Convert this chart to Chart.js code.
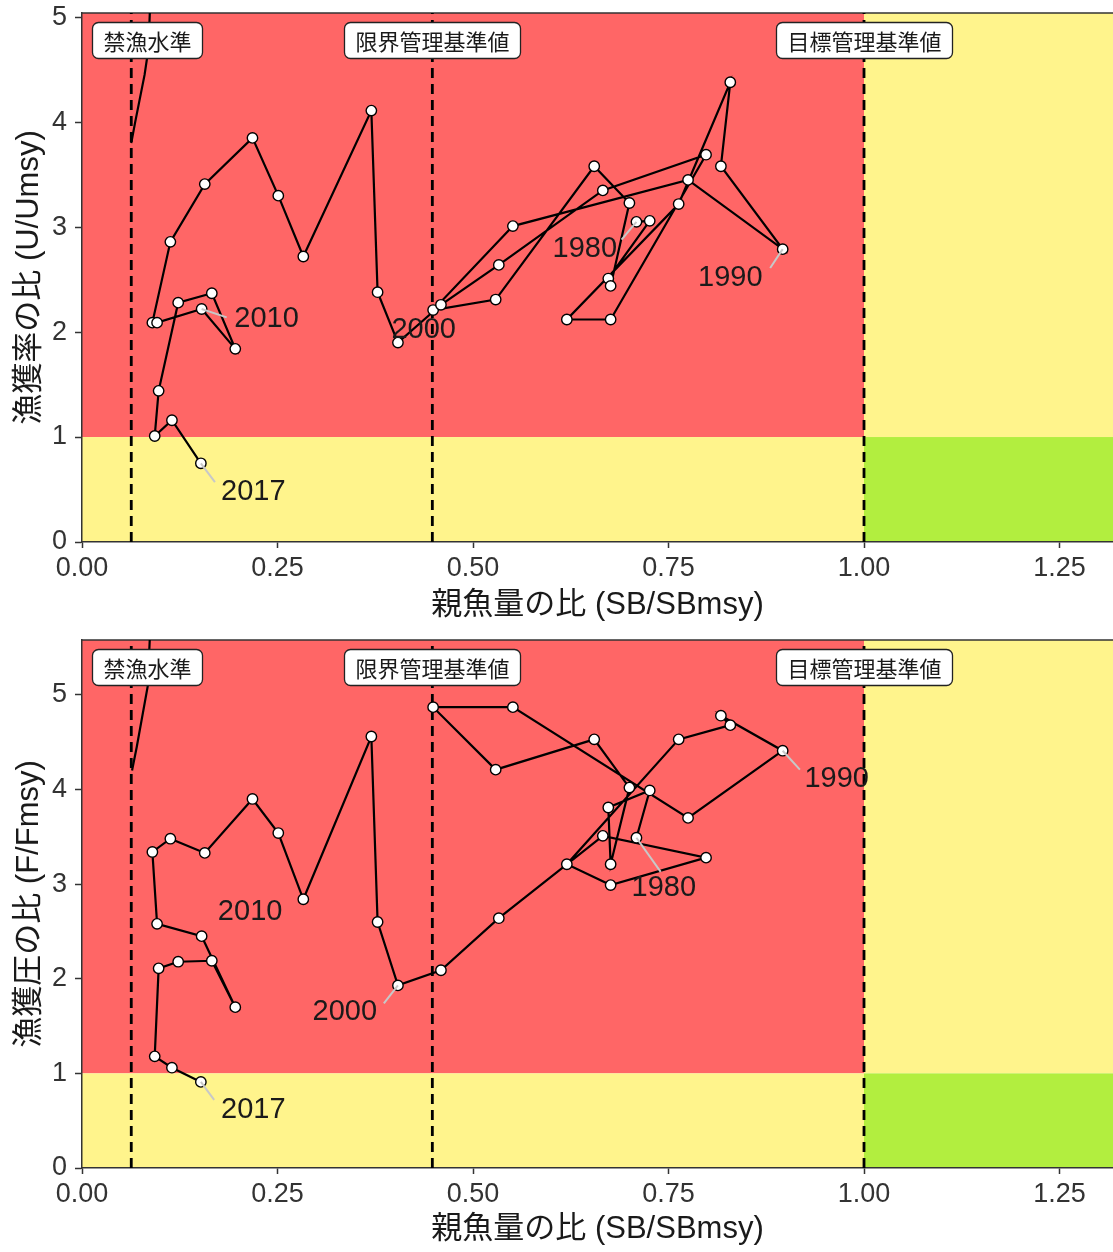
<!DOCTYPE html>
<html>
<head>
<meta charset="utf-8">
<script src="https://cdn.jsdelivr.net/npm/chart.js@4.4.1/dist/chart.umd.min.js"></script>
<style>
  html, body { margin: 0; padding: 0; background: #fff; }
  #wrap { position: relative; width: 1113px; height: 1252px; overflow: hidden; }
  canvas { position: absolute; left: 0; }
</style>
</head>
<body>
<div id="wrap">
  <canvas id="chart-u" width="1113" height="628" style="top:0"></canvas>
  <canvas id="chart-f" width="1113" height="624" style="top:628px"></canvas>
</div>
<script>
// Kobe-style plots: spawning biomass ratio vs exploitation rate / fishing pressure, 1980-2017.

const FIRST_YEAR = 1980;
// SB/SBmsy, one value per year from 1980 to 2017
const sbRatio = [
    0.709, 0.726, 0.673, 0.676, 0.700, 0.655, 0.529, 0.449, 0.551, 0.775,
    0.896, 0.817, 0.829, 0.763, 0.620, 0.676, 0.798, 0.666, 0.533, 0.459,
    0.404, 0.378, 0.370, 0.283, 0.251, 0.218, 0.157, 0.113, 0.090, 0.096,
    0.153, 0.196, 0.166, 0.123, 0.098, 0.093, 0.115, 0.152,
];
// U/Umsy
const uRatio = [
    3.05, 3.06, 2.51, 2.44, 3.23, 3.58, 2.31, 2.21, 3.01, 3.45,
    2.79, 3.58, 4.38, 3.22, 2.12, 2.12, 3.69, 3.35, 2.64, 2.26,
    1.90, 2.38, 4.11, 2.72, 3.30, 3.85, 3.41, 2.86, 2.09, 2.09,
    2.22, 1.84, 2.37, 2.28, 1.44, 1.01, 1.16, 0.75,
];
// F/Fmsy
const fRatio = [
    3.49, 3.99, 3.81, 3.21, 4.02, 4.53, 4.21, 4.87, 4.87, 3.70,
    4.41, 4.78, 4.68, 4.53, 3.21, 2.99, 3.28, 3.51, 2.64, 2.09,
    1.93, 2.60, 4.56, 2.84, 3.54, 3.90, 3.33, 3.48, 3.34, 2.58,
    2.45, 1.70, 2.19, 2.18, 2.11, 1.18, 1.06, 0.91,
];

// short line leaving the 禁漁水準 line at the top left of each panel
const banCurveU = [[0.063, 3.80], [0.068, 4.00], [0.080, 4.45], [0.085, 4.70], [0.087, 5.10]];
const banCurveF = [[0.064, 4.20], [0.070, 4.45], [0.084, 5.09], [0.087, 5.65]];

const xTicks = [0, 0.25, 0.5, 0.75, 1.0, 1.25];
const yTicks = [0, 1, 2, 3, 4, 5];

// reference points
const SB_BAN = 0.063;
const SB_LIMIT = 0.448;
const SB_TARGET = 1.0;
const RATIO_MSY = 1.0;
const refLabels = [
    { text: '禁漁水準', x: 0.083 },
    { text: '限界管理基準値', x: SB_LIMIT },
    { text: '目標管理基準値', x: SB_TARGET },
];

const RED = '#FF6666';
const YELLOW = '#FFF48C';
const GREEN = '#B2EE3F';
const FONT = "'Liberation Sans', 'Noto Sans CJK JP', sans-serif";
const JP_FONT = "'Noto Sans CJK JP', 'Liberation Sans', sans-serif";

// year annotations: label centre and end of the grey leader (null = no leader)
const yearNotesU = [
    { year: 2010, label: [0.236, 2.12], leader: [0.185, 2.14] },
    { year: 2017, label: [0.219, 0.48], leader: [0.170, 0.57] },
    { year: 2000, label: [0.437, 2.02], leader: null },
    { year: 1980, label: [0.643, 2.79], leader: [0.690, 2.88] },
    { year: 1990, label: [0.829, 2.52], leader: [0.880, 2.61] },
];
const yearNotesF = [
    { year: 2010, label: [0.215, 2.71], leader: null },
    { year: 2017, label: [0.219, 0.61], leader: [0.169, 0.72] },
    { year: 2000, label: [0.336, 1.65], leader: [0.386, 1.74] },
    { year: 1980, label: [0.744, 2.96], leader: [0.740, 3.13] },
    { year: 1990, label: [0.965, 4.11], leader: [0.918, 4.21] },
];

const zonePlugin = {
    id: 'zones',
    beforeDraw(chart) {
        const { ctx, chartArea: a, scales: { x, y } } = chart;
        const xT = x.getPixelForValue(SB_TARGET);
        const yT = y.getPixelForValue(RATIO_MSY);
        ctx.save();
        ctx.fillStyle = RED;
        ctx.fillRect(a.left, a.top, xT - a.left, yT - a.top);
        ctx.fillStyle = YELLOW;
        ctx.fillRect(a.left, yT, xT - a.left, a.bottom - yT);
        ctx.fillRect(xT, a.top, a.right - xT, yT - a.top);
        ctx.fillStyle = GREEN;
        ctx.fillRect(xT, yT, a.right - xT, a.bottom - yT);
        ctx.restore();
    },
    beforeDatasetsDraw(chart) {
        const { ctx, chartArea: a } = chart;
        ctx.save();
        ctx.strokeStyle = '#333';
        ctx.lineWidth = 1.5;
        ctx.beginPath();
        ctx.moveTo(a.left, a.top);
        ctx.lineTo(a.right, a.top);
        ctx.stroke();
        ctx.restore();
    },
};

function roundRect(ctx, x, y, w, h, r) {
    ctx.beginPath();
    ctx.moveTo(x + r, y);
    ctx.arcTo(x + w, y, x + w, y + h, r);
    ctx.arcTo(x + w, y + h, x, y + h, r);
    ctx.arcTo(x, y + h, x, y, r);
    ctx.arcTo(x, y, x + w, y, r);
    ctx.closePath();
}

function notesPlugin(series, notes) {
    return {
        id: 'notes',
        afterDatasetsDraw(chart) {
            const { ctx, chartArea: a, scales: { x, y } } = chart;
            ctx.save();
            // year leaders and labels
            notes.forEach((n) => {
                const i = n.year - FIRST_YEAR;
                if (n.leader) {
                    ctx.strokeStyle = '#C8C8C8';
                    ctx.lineWidth = 2;
                    ctx.beginPath();
                    ctx.moveTo(x.getPixelForValue(sbRatio[i]), y.getPixelForValue(series[i]));
                    ctx.lineTo(x.getPixelForValue(n.leader[0]), y.getPixelForValue(n.leader[1]));
                    ctx.stroke();
                }
                ctx.fillStyle = '#1a1a1a';
                ctx.font = `29px ${FONT}`;
                ctx.textAlign = 'center';
                ctx.textBaseline = 'middle';
                ctx.fillText(String(n.year), x.getPixelForValue(n.label[0]), y.getPixelForValue(n.label[1]));
            });
            // reference point boxes
            ctx.font = `22px ${JP_FONT}`;
            refLabels.forEach((r) => {
                const w = ctx.measureText(r.text).width + 22;
                const h = 36;
                const cx = x.getPixelForValue(r.x);
                const bx = Math.round(cx - w / 2) + 0.5;
                const by = a.top + 9.5;
                roundRect(ctx, bx, by, w, h, 6);
                ctx.fillStyle = '#fff';
                ctx.fill();
                ctx.strokeStyle = '#222';
                ctx.lineWidth = 1.3;
                ctx.stroke();
                ctx.fillStyle = '#1a1a1a';
                ctx.textAlign = 'center';
                ctx.textBaseline = 'middle';
                ctx.fillText(r.text, bx + w / 2, by + h / 2 + 1);
            });
            ctx.restore();
        },
    };
}

function refLine(xv, yMax) {
    return {
        data: [{ x: xv, y: 0 }, { x: xv, y: yMax }],
        showLine: true,
        borderColor: '#000',
        borderWidth: 2.8,
        borderDash: [10, 6],
        pointRadius: 0,
        order: 3,
    };
}

function mountChart(canvas, series, banCurve, yTitle, yMax, padTop, xAxisHeight, notes) {
    const path = sbRatio.map((sb, i) => ({ x: sb, y: series[i] }));
    new Chart(canvas.getContext('2d'), {
        type: 'scatter',
        data: {
            datasets: [
                refLine(SB_BAN, yMax),
                refLine(SB_LIMIT, yMax),
                refLine(SB_TARGET, yMax),
                {
                    data: banCurve.map(([x, y]) => ({ x, y })),
                    showLine: true,
                    borderColor: '#000',
                    borderWidth: 2.2,
                    pointRadius: 0,
                    order: 2,
                },
                {
                    data: path,
                    showLine: true,
                    borderColor: '#000',
                    borderWidth: 2.2,
                    pointRadius: 5.2,
                    pointBackgroundColor: '#fff',
                    pointBorderColor: '#000',
                    pointBorderWidth: 1.4,
                    order: 1,
                },
            ],
        },
        options: {
            responsive: false,
            animation: false,
            layout: { autoPadding: false, padding: { top: padTop, right: 0, left: 0, bottom: 0 } },
            plugins: { legend: { display: false }, tooltip: { enabled: false } },
            scales: {
                x: {
                    type: 'linear',
                    min: 0,
                    max: 1.3184,
                    afterBuildTicks: (s) => { s.ticks = xTicks.map((v) => ({ value: v })); },
                    afterFit: (s) => { s.height = xAxisHeight; s.paddingLeft = 0; s.paddingRight = 0; },
                    grid: { drawOnChartArea: false, drawTicks: true, tickLength: 6, color: '#333', tickWidth: 1.5 },
                    border: { color: '#333', width: 1.5 },
                    ticks: { color: '#333', font: { family: FONT, size: 27 }, padding: 4, maxRotation: 0,
                        callback: (v) => Number(v).toFixed(2) },
                    title: { display: true, text: '親魚量の比 (SB/SBmsy)', color: '#1a1a1a',
                        font: { family: FONT, size: 31 }, padding: { top: 0, bottom: 4 } },
                },
                y: {
                    type: 'linear',
                    min: 0,
                    max: yMax,
                    afterBuildTicks: (s) => { s.ticks = yTicks.map((v) => ({ value: v })); },
                    afterFit: (s) => { s.width = 82; s.paddingTop = 0; s.paddingBottom = 0; },
                    grid: { drawOnChartArea: false, drawTicks: true, tickLength: 7, color: '#333', tickWidth: 1.5 },
                    border: { color: '#333', width: 1.5 },
                    ticks: { color: '#333', font: { family: FONT, size: 27 }, padding: 8,
                        callback: (v) => String(v) },
                    title: { display: true, text: yTitle, color: '#1a1a1a',
                        font: { family: FONT, size: 31 }, padding: { top: 11, bottom: 0 } },
                },
            },
        },
        plugins: [zonePlugin, notesPlugin(series, notes)],
    });
}

document.addEventListener('DOMContentLoaded', () => {
    mountChart(document.getElementById('chart-u'), uRatio, banCurveU,
        '漁獲率の比 (U/Umsy)', 5.04, 13, 86, yearNotesU);
    mountChart(document.getElementById('chart-f'), fRatio, banCurveF,
        '漁獲圧の比 (F/Fmsy)', 5.58, 12, 84, yearNotesF);
});
</script>
</body>
</html>
